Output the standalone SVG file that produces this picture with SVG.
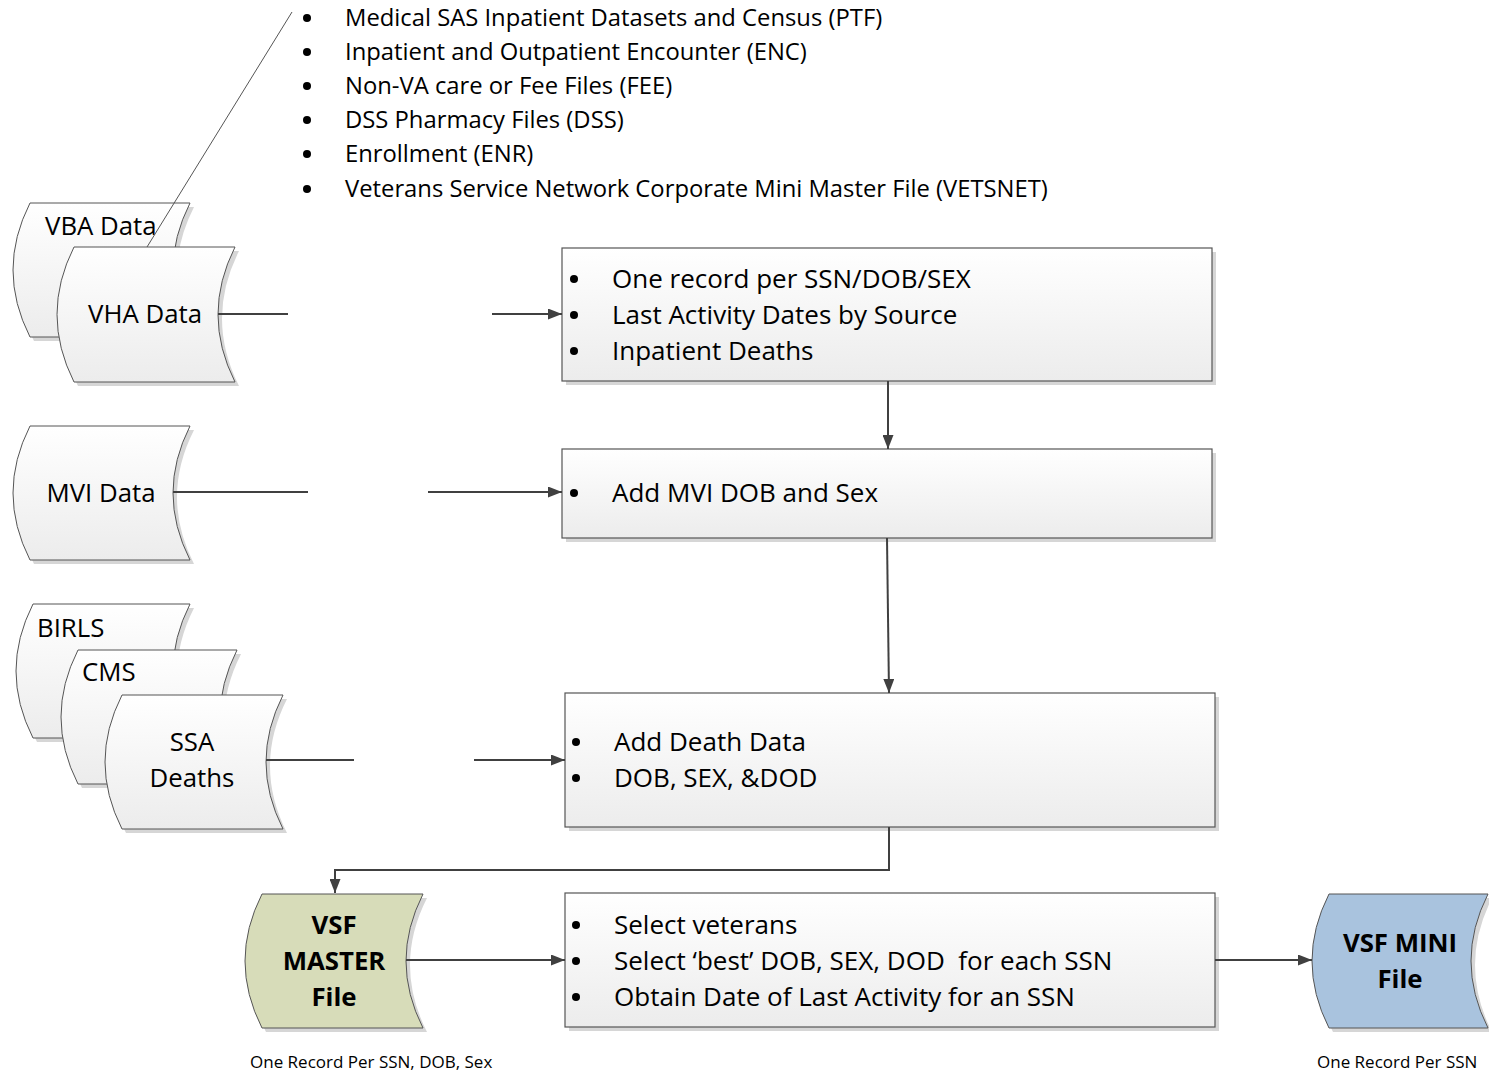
<svg xmlns="http://www.w3.org/2000/svg" width="1489" height="1074" viewBox="0 0 1489 1074">
<defs>
<linearGradient id="g" x1="0" y1="0" x2="0" y2="1"><stop offset="0" stop-color="#ffffff"/><stop offset="1" stop-color="#ececec"/></linearGradient>
<marker id="ah" viewBox="0 0 14 11" refX="14" refY="5.5" markerWidth="14" markerHeight="11" markerUnits="userSpaceOnUse" orient="auto"><path d="M0 0 L14 5.5 L0 11 Z" fill="#404040"/></marker>
</defs>
<style>
.t{font-family:"Open Sans","Liberation Sans",sans-serif;fill:#000;white-space:pre}
.lst{font-size:23.8px}
.bx{font-size:26px}
.sh{fill:url(#g);stroke:#555;stroke-width:1}
.shadow{fill:#d6d6d6;stroke:none}
.box{fill:url(#g);stroke:#555;stroke-width:1.2}
.c{fill:none;stroke:#404040;stroke-width:2}
.lbl{font-size:25.8px}
.b{font-weight:bold;font-size:25.8px}
.cap{font-size:17px}
</style>
<rect width="1489" height="1074" fill="#ffffff"/>

<g id="toplist" class="t lst">
<g fill="#000"><circle cx="307" cy="18" r="4"/><circle cx="307" cy="52" r="4"/><circle cx="307" cy="86" r="4"/><circle cx="307" cy="120" r="4"/><circle cx="307" cy="154" r="4"/><circle cx="307" cy="189" r="4"/></g>
<text x="345" y="26">Medical SAS Inpatient Datasets and Census (PTF)</text>
<text x="345" y="60">Inpatient and Outpatient Encounter (ENC)</text>
<text x="345" y="94">Non-VA care or Fee Files (FEE)</text>
<text x="345" y="128">DSS Pharmacy Files (DSS)</text>
<text x="345" y="162">Enrollment (ENR)</text>
<text x="345" y="197">Veterans Service Network Corporate Mini Master File (VETSNET)</text>
</g>

<g id="vba">
<path class="shadow" transform="translate(4,4)" d="M30 203 L190 203 Q156 270 190 337 L30 337 Q-4 270 30 203Z"/>
<path class="sh" d="M30 203 L190 203 Q156 270 190 337 L30 337 Q-4 270 30 203Z"/>
<text class="t lbl" x="45" y="235">VBA Data</text>
</g>

<line x1="292" y1="12" x2="147" y2="247" stroke="#555" stroke-width="1"/>

<g id="vha">
<path class="shadow" transform="translate(4,4)" d="M74 247 L235 247 Q201 314.5 235 382 L74 382 Q40 314.5 74 247Z"/>
<path class="sh" d="M74 247 L235 247 Q201 314.5 235 382 L74 382 Q40 314.5 74 247Z"/>
<text class="t lbl" x="145" y="323" text-anchor="middle">VHA Data</text>
</g>

<g id="mvi">
<path class="shadow" transform="translate(4,4)" d="M30 426 L190 426 Q156 493 190 560 L30 560 Q-4 493 30 426Z"/>
<path class="sh" d="M30 426 L190 426 Q156 493 190 560 L30 560 Q-4 493 30 426Z"/>
<text class="t lbl" x="101" y="502" text-anchor="middle">MVI Data</text>
</g>

<g id="birls">
<path class="shadow" transform="translate(4,4)" d="M33 604 L190 604 Q156 671 190 738 L33 738 Q-1 671 33 604Z"/>
<path class="sh" d="M33 604 L190 604 Q156 671 190 738 L33 738 Q-1 671 33 604Z"/>
<text class="t lbl" x="37" y="637">BIRLS</text>
</g>

<g id="cms">
<path class="shadow" transform="translate(4,4)" d="M78 650 L237 650 Q203 717 237 784 L78 784 Q44 717 78 650Z"/>
<path class="sh" d="M78 650 L237 650 Q203 717 237 784 L78 784 Q44 717 78 650Z"/>
<text class="t lbl" x="82" y="681">CMS</text>
</g>

<g id="ssa">
<path class="shadow" transform="translate(4,4)" d="M122 695 L283 695 Q249 762 283 829 L122 829 Q88 762 122 695Z"/>
<path class="sh" d="M122 695 L283 695 Q249 762 283 829 L122 829 Q88 762 122 695Z"/>
<text class="t lbl" x="192" y="751" text-anchor="middle">SSA</text>
<text class="t lbl" x="192" y="787" text-anchor="middle">Deaths</text>
</g>

<g id="vsfmaster">
<path class="shadow" transform="translate(4,4)" d="M262 894 L423 894 Q389 961 423 1028 L262 1028 Q228 961 262 894Z"/>
<path fill="#d7dcb9" stroke="#555" stroke-width="1" d="M262 894 L423 894 Q389 961 423 1028 L262 1028 Q228 961 262 894Z"/>
<text class="t b" x="334" y="934" text-anchor="middle">VSF</text>
<text class="t b" x="334" y="970" text-anchor="middle">MASTER</text>
<text class="t b" x="334" y="1006" text-anchor="middle">File</text>
</g>

<g id="vsfmini">
<path class="shadow" transform="translate(4,4)" d="M1329 894 L1488 894 Q1454 961 1488 1028 L1329 1028 Q1295 961 1329 894Z"/>
<path fill="#a9c3de" stroke="#555" stroke-width="1" d="M1329 894 L1488 894 Q1454 961 1488 1028 L1329 1028 Q1295 961 1329 894Z"/>
<text class="t b" x="1400" y="952" text-anchor="middle">VSF MINI</text>
<text class="t b" x="1400" y="988" text-anchor="middle">File</text>
</g>

<g id="box1">
<rect class="shadow" x="566" y="252" width="650" height="133"/>
<rect class="box" x="562" y="248" width="650" height="133"/>
<g fill="#000"><circle cx="574" cy="279" r="4"/><circle cx="574" cy="315" r="4"/><circle cx="574" cy="351" r="4"/></g>
<g class="t bx"><text x="612" y="288">One record per SSN/DOB/SEX</text><text x="612" y="324">Last Activity Dates by Source</text><text x="612" y="360">Inpatient Deaths</text></g>
</g>

<g id="box2">
<rect class="shadow" x="566" y="453" width="650" height="89"/>
<rect class="box" x="562" y="449" width="650" height="89"/>
<circle cx="574" cy="493" r="4" fill="#000"/>
<text class="t bx" x="612" y="502">Add MVI DOB and Sex</text>
</g>

<g id="box3">
<rect class="shadow" x="569" y="697" width="650" height="134"/>
<rect class="box" x="565" y="693" width="650" height="134"/>
<g fill="#000"><circle cx="576" cy="742" r="4"/><circle cx="576" cy="778" r="4"/></g>
<g class="t bx"><text x="614" y="751">Add Death Data</text><text x="614" y="787">DOB, SEX, &amp;DOD</text></g>
</g>

<g id="box4">
<rect class="shadow" x="569" y="897" width="650" height="134"/>
<rect class="box" x="565" y="893" width="650" height="134"/>
<g fill="#000"><circle cx="576" cy="925" r="4"/><circle cx="576" cy="961" r="4"/><circle cx="576" cy="997" r="4"/></g>
<g class="t bx"><text x="614" y="934">Select veterans</text><text x="614" y="970" xml:space="preserve">Select ‘best’ DOB, SEX, DOD  for each SSN</text><text x="614" y="1006">Obtain Date of Last Activity for an SSN</text></g>
</g>

<g id="captions" class="t cap">
<text x="250" y="1068">One Record Per SSN, DOB, Sex</text>
<text x="1317" y="1068">One Record Per SSN</text>
</g>

<g id="connectors">
<line class="c" x1="218" y1="314" x2="288" y2="314"/>
<line class="c" x1="492" y1="314" x2="562" y2="314" marker-end="url(#ah)"/>
<line class="c" x1="173" y1="492" x2="308" y2="492"/>
<line class="c" x1="428" y1="492" x2="562" y2="492" marker-end="url(#ah)"/>
<line class="c" x1="266" y1="760" x2="354" y2="760"/>
<line class="c" x1="474" y1="760" x2="565" y2="760" marker-end="url(#ah)"/>
<line class="c" x1="888" y1="381" x2="888" y2="449" marker-end="url(#ah)"/>
<line class="c" x1="887" y1="538" x2="889" y2="693" marker-end="url(#ah)"/>
<polyline class="c" points="889,827 889,870 335,870 335,893" marker-end="url(#ah)"/>
<line class="c" x1="406" y1="960" x2="565" y2="960" marker-end="url(#ah)"/>
<line class="c" x1="1215" y1="960" x2="1312" y2="960" marker-end="url(#ah)"/>
</g>
</svg>
